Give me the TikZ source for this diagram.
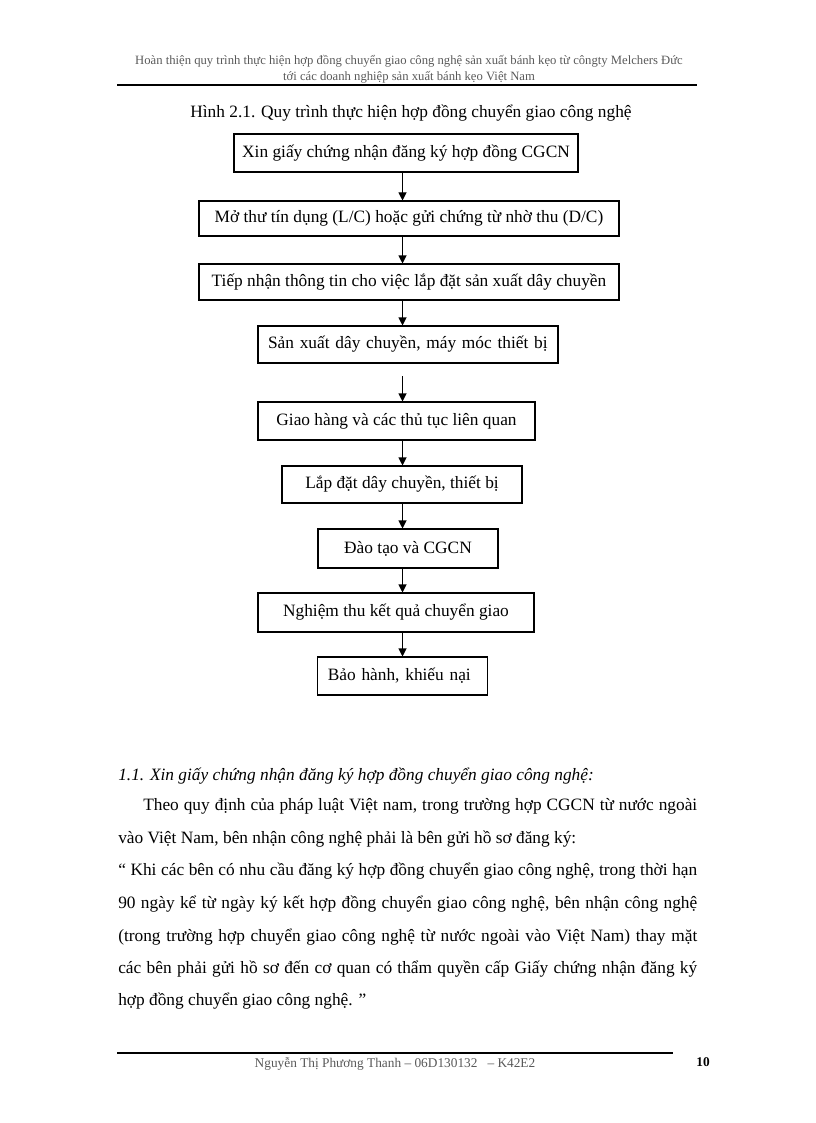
\documentclass[tikz,border=0pt]{standalone}
\usepackage{fontspec}
\setmainfont{Liberation Serif}
\usetikzlibrary{arrows.meta}
\begin{document}
\begin{tikzpicture}[x=0.75pt,y=-0.75pt,
  box/.style={draw, line width=0.8pt, inner sep=0pt, font=\fontsize{13}{15.6}\selectfont},
  lbox/.style={box, align=left, inner xsep=7.5pt},
  arr/.style={line width=0.8pt, -{Triangle[length=6pt,width=6pt]}},
  hdr/.style={text=black!65, inner sep=0pt, font=\fontsize{9.5}{11}\selectfont},
  body/.style={inner sep=0pt, anchor=base west, font=\fontsize{13}{15.6}\selectfont},
  rulel/.style={line width=1.8pt}]
\useasboundingbox (0,0) rectangle (816,1123);
% header
\node[hdr] (h1) at (409,61) {Hoàn thiện quy trình thực hiện hợp đồng chuyển giao công nghệ sản xuất bánh kẹo từ côngty Melchers Đức};
\node[hdr] (h2) at (409,77) {tới các doanh nghiệp sản xuất bánh kẹo Việt Nam};
\draw[rulel] (117,85) -- (697,85);
% caption
\node[body, anchor=base] (cap) at (411,118) {Hình 2.1. Quy trình thực hiện hợp đồng chuyển giao công nghệ};
% boxes
\node[box, minimum width=258pt, minimum height=28.5pt] (b1) at (406,153) {Xin giấy chứng nhận đăng ký hợp đồng CGCN};
\node[box, minimum width=315pt, minimum height=26.25pt] (b2) at (409,218.5) {Mở thư tín dụng (L/C) hoặc gửi chứng từ nhờ thu (D/C)};
\node[box, minimum width=315pt, minimum height=27pt] (b3) at (409,282) {Tiếp nhận thông tin cho việc lắp đặt sản xuất dây chuyền};
\node[lbox, text width=210pt, minimum height=27.75pt] (b4) at (408,344.5) {Sản xuất dây chuyền, máy móc thiết bị};
\node[box, minimum width=207.75pt, minimum height=28.5pt] (b5) at (396.5,421) {Giao hàng và các thủ tục liên quan};
\node[box, minimum width=180pt, minimum height=27.75pt] (b6) at (402,484.5) {Lắp đặt dây chuyền, thiết bị};
\node[box, minimum width=135pt, minimum height=29.25pt] (b7) at (408,548.5) {Đào tạo và CGCN};
\node[box, minimum width=207pt, minimum height=29.25pt] (b8) at (396,612.5) {Nghiệm thu kết quả chuyển giao};
\node[lbox, text width=112pt, minimum height=28.5pt] (b9) at (402.5,676) {Bảo hành, khiếu nại};
% arrows
\coordinate (ax) at (402.5,0);
\coordinate (s4) at (402.5,376);
\draw[arr] (b1.south -| ax) -- (b2.north -| ax);
\draw[arr] (b2.south -| ax) -- (b3.north -| ax);
\draw[arr] (b3.south -| ax) -- (b4.north -| ax);
\draw[arr] (s4) -- (b5.north -| ax);
\draw[arr] (b5.south -| ax) -- (b6.north -| ax);
\draw[arr] (b6.south -| ax) -- (b7.north -| ax);
\draw[arr] (b7.south -| ax) -- (b8.north -| ax);
\draw[arr] (b8.south -| ax) -- (b9.north -| ax);
% body text
\node[body, font=\fontsize{13}{15.6}\itshape] (t0) at (118,780) {1.1. Xin giấy chứng nhận đăng ký hợp đồng chuyển giao công nghệ:};
\node[body] (t1) at (143,810) {\makebox[415.5pt][s]{Theo quy định của pháp luật Việt nam, trong trường hợp CGCN từ nước ngoài}};
\node[body] (t2) at (118,843) {vào Việt Nam, bên nhận công nghệ phải là bên gửi hồ sơ đăng ký:};
\node[body] (t3) at (118,875) {\makebox[434.25pt][s]{“ Khi các bên có nhu cầu đăng ký hợp đồng chuyển giao công nghệ, trong thời hạn}};
\node[body] (t4) at (118,908) {\makebox[434.25pt][s]{90 ngày kể từ ngày ký kết hợp đồng chuyển giao công nghệ, bên nhận công nghệ}};
\node[body] (t5) at (118,941) {\makebox[434.25pt][s]{(trong trường hợp chuyển giao công nghệ từ nước ngoài vào Việt Nam) thay mặt}};
\node[body] (t6) at (118,973) {\makebox[434.25pt][s]{các bên phải gửi hồ sơ đến cơ quan có thẩm quyền cấp Giấy chứng nhận đăng ký}};
\node[body] (t7) at (118,1005) {hợp đồng chuyển giao công nghệ. ”};
% footer
\draw[rulel] (117,1053) -- (673,1053);
\node[hdr, font=\fontsize{10}{12}\selectfont] (f1) at (395,1064) {Nguyễn Thị Phương Thanh – 06D130132 \ \ – K42E2};
\node[inner sep=0pt, font=\fontsize{10}{12}\bfseries] (pg) at (703,1062) {10};
\end{tikzpicture}
\end{document}
